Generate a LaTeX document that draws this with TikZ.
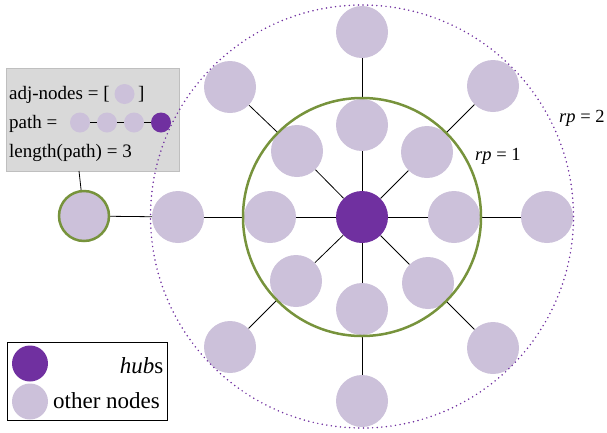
\documentclass[tikz,border=0pt]{standalone}
\usepackage{fontspec}
\setmainfont{Liberation Serif}
\definecolor{hubc}{HTML}{7030A0}
\definecolor{othc}{HTML}{CCC1DA}
\definecolor{grn}{HTML}{77933C}
\definecolor{boxfill}{HTML}{D9D9D9}
\definecolor{boxline}{HTML}{BFBFBF}
\pgfdeclarelayer{edges}
\pgfsetlayers{edges,main}
\tikzset{
  hubnode/.style={circle,fill=hubc,minimum size=52pt,inner sep=0pt},
  othnode/.style={circle,fill=othc,minimum size=52pt,inner sep=0pt},
  link/.style={draw=black,line width=0.8pt},
  smallhub/.style={circle,fill=hubc,minimum size=20pt,inner sep=0pt},
  smalloth/.style={circle,fill=othc,minimum size=20pt,inner sep=0pt},
  leghub/.style={circle,fill=hubc,minimum size=36pt,inner sep=0pt},
  legoth/.style={circle,fill=othc,minimum size=36pt,inner sep=0pt},
  boxtext/.style={anchor=base west,inner sep=0pt,font=\fontsize{19}{22}\selectfont},
  lbl/.style={anchor=base west,inner sep=0pt,font=\fontsize{18.5}{22}\selectfont},
  legtext/.style={inner sep=0pt,font=\fontsize{23}{27}\selectfont}
}
\begin{document}
\begin{tikzpicture}[x=1pt,y=-1pt]
\useasboundingbox (0,0) rectangle (607,432);
% nodes
\node[hubnode] (h) at (362,217) {};
\node[othnode] (it) at (362,125) {};
\node[othnode] (ib) at (362,309) {};
\node[othnode] (il) at (270,217) {};
\node[othnode] (ir) at (454,217) {};
\node[othnode] (itl) at (297,151) {};
\node[othnode] (itr) at (427,152) {};
\node[othnode] (ibl) at (296,281) {};
\node[othnode] (ibr) at (428,283) {};
\node[othnode] (ot) at (362,32) {};
\node[othnode] (ob) at (362,401) {};
\node[othnode] (ol) at (178,217) {};
\node[othnode] (or) at (547,217) {};
\node[othnode] (otl) at (230,87) {};
\node[othnode] (otr) at (493,86) {};
\node[othnode] (obl) at (230,347) {};
\node[othnode] (obr) at (493,348) {};
\node[othnode,minimum size=50pt,draw=grn,line width=2.5pt] (x) at (84,216) {};
% info box
\node[draw=boxline,fill=boxfill,line width=0.8pt,minimum width=173pt,minimum height=103pt,inner sep=0pt] (box) at (92.5,119.5) {};
\coordinate (boxfoot) at (79,171);
% edges
\begin{pgfonlayer}{edges}
\foreach \a/\b in {h/it,h/ib,h/il,h/ir,h/itl,h/itr,h/ibl,h/ibr,it/ot,ib/ob,il/ol,ir/or,itl/otl,itr/otr,ibl/obl,ibr/obr,ol/x}
  \draw[link] (\a) -- (\b);
\end{pgfonlayer}
\draw[link] (boxfoot) -- (x);
% circles
\node[circle,draw=grn,line width=2.5pt,minimum size=238pt,inner sep=0pt] (c1) at (362,217) {};
\node[circle,draw=hubc,line width=1.7pt,line cap=round,dash pattern=on 0pt off 4.6pt,minimum size=423pt,inner sep=0pt] (c2) at (362,216.5) {};
% labels
\node[lbl] (l1) at (475,160.5) {\textit{rp} = 1};
\node[lbl] (l2) at (559,122.5) {\textit{rp} = 2};
% box content
\node[boxtext] (t1) at (9,99.5) {adj-nodes = [};
\node[smalloth] (a1) at (124.5,94) {};
\node[boxtext] (t1b) at (138,99.5) {]};
\node[boxtext] (t2) at (9,128.5) {path =};
\node[smalloth] (p1) at (80,122.5) {};
\node[smalloth] (p2) at (107,122.5) {};
\node[smalloth] (p3) at (134,122.5) {};
\node[smallhub] (p4) at (161,122.5) {};
\draw[link] (p1) -- (p2);
\draw[link] (p2) -- (p3);
\draw[link] (p3) -- (p4);
\node[boxtext] (t3) at (9,157) {length(path) = 3};
% legend
\node[draw=black,line width=0.8pt,minimum width=160pt,minimum height=78pt,inner sep=0pt] (leg) at (87.3,381.5) {};
\node[leghub] (lh) at (30,363.5) {};
\node[legoth] (lo) at (30,401.5) {};
\node[legtext,anchor=base east] (lht) at (163.5,373.5) {\textit{hub}s};
\node[legtext,anchor=base west] (lot) at (53,408) {other nodes};
\end{tikzpicture}
\end{document}
